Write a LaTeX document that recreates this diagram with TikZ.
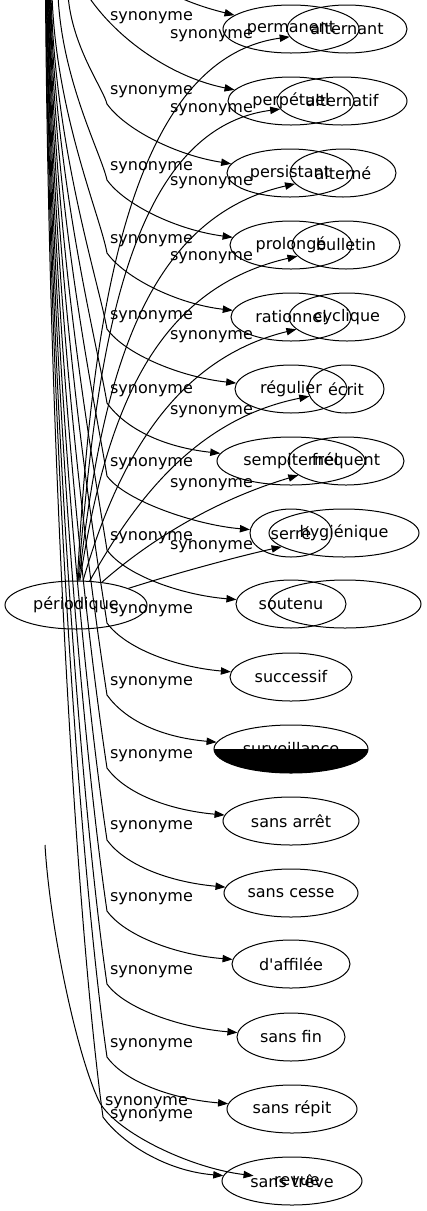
\documentclass[tikz,border=0pt]{standalone}
\usepackage{fontspec}
\setmainfont{DejaVu Sans}[Ligatures=TeXOff]
\usetikzlibrary{shapes.geometric,arrows.meta}
\begin{document}
\begin{tikzpicture}[x=0.75pt,y=-0.75pt,
  every node/.style={font=\fontsize{12}{14}\selectfont},
  nd/.style={ellipse,draw=black,line width=0.75pt,inner sep=0pt,minimum height=36pt,minimum width=#1*1.5pt},
  lbl/.style={inner sep=0pt},
  syn/.style={draw=black,line width=0.75pt,-{Triangle[length=7.5pt,width=5.5pt]}}]
\fill[white] (0,0) rectangle (426,1211);
\useasboundingbox (0,0) rectangle (426,1211);
\clip (0,0) rectangle (426,1211);

% main node
\node[nd=71] (peri) at (76,605) {périodique};

% first column
\node[nd=68] (permanent) at (291,29) {permanent};
\node[nd=63] (perpetuel) at (291,101) {perpétuel};
\node[nd=63] (persistant) at (290,173) {persistant};
\node[nd=61] (prolonge) at (291,245) {prolongé};
\node[nd=60] (rationnel) at (291,317) {rationnel};
\node[nd=56] (regulier) at (291,389) {régulier};
\node[nd=74] (sempiternel) at (291,461) {sempiternel};
\node[nd=41] (serre) at (291,533) {serré};
\node[nd=55] (soutenu) at (291,604) {soutenu};
\node[nd=61] (successif) at (291,677) {successif};
\node[nd=77] (surveillance) at (291,749) {surveillance};
\begin{scope}
\clip (200,749) rectangle (380,780);
\fill[black] (surveillance.center) ellipse [x radius=57.75pt, y radius=18pt];
\end{scope}
\node[nd=68] (sansarret) at (291,821) {sans arrêt};
\node[nd=67] (sanscesse) at (291,893) {sans cesse};
\node[nd=59] (daffilee) at (291,964) {d'affilée};
\node[nd=54] (sansfin) at (291,1037) {sans fin};
\node[nd=65] (sansrepit) at (292,1109) {sans répit};
\node[nd=70] (sanstreve) at (292,1181) {sans trêve};
\node[nd=44,draw=none] (revue) at (297,1181) {revue};

% second column
\node[nd=60] (alternant) at (347,29) {alternant};
\node[nd=65] (alternatif) at (342,101) {alternatif};
\node[nd=53] (alterne) at (343,173) {alterné};
\node[nd=54] (bulletin) at (346,245) {bulletin};
\node[nd=58] (cyclique) at (347,317) {cyclique};
\node[nd=38] (ecrit) at (346,389) {écrit};
\node[nd=58] (frequent) at (346,461) {fréquent};
\node[nd=75] (hygienique) at (344,533) {hygiénique};
\node[nd=76] (vide) at (345,604) {};

% free ends above the picture
\coordinate (s0) at (120,-40);
\coordinate (s1) at (70,-40);
\coordinate (s2) at (68,-5);
\coordinate (s3) at (58,-5);
\coordinate (s4) at (52,-5);
\coordinate (s5) at (51,-5);
\coordinate (s6) at (50.5,-5);
\coordinate (s7) at (50,-5);
\coordinate (s8) at (49.5,-5);
\coordinate (s9) at (49,-5);
\coordinate (s10) at (48.5,-5);
\coordinate (s11) at (48,-5);
\coordinate (s12) at (47.5,-5);
\coordinate (s13) at (47,-5);
\coordinate (s14) at (46.5,-5);
\coordinate (s15) at (46,-5);
\coordinate (s16) at (45.5,-5);
\coordinate (s17) at (45,845);

% first-column connectors
\draw[syn] (s0) .. controls (155,-12) and (185,3) .. (permanent);
\draw[syn] (s1) .. controls (90,20) and (160,75) .. (perpetuel);
\draw[syn] (s2) .. controls (72,47) and (103,88) .. (107,104) .. controls (125,129) and (175,155) .. (persistant);
\draw[syn] (s3) .. controls (62,81) and (101,153) .. (107,180) .. controls (125,205) and (177,230) .. (prolonge);
\draw[syn] (s4) .. controls (56,114) and (100,215) .. (107,253) .. controls (125,278) and (177,304) .. (rationnel);
\draw[syn] (s5) .. controls (55,148) and (98,280) .. (107,329) .. controls (125,354) and (180,377) .. (regulier);
\draw[syn] (s6) .. controls (54.5,181) and (97,343) .. (107,403) .. controls (125,428) and (162,447) .. (sempiternel);
\draw[syn] (s7) .. controls (54,214) and (95.5,405) .. (107,476) .. controls (125,501) and (196,525) .. (serre);
\draw[syn] (s8) .. controls (53.5,248) and (94,468) .. (107,550) .. controls (125,575) and (181,595) .. (soutenu);
\draw[syn] (s9) .. controls (53,280) and (92.5,530) .. (107,623) .. controls (125,648) and (175,667) .. (successif);
\draw[syn] (s10) .. controls (52.5,313) and (91,591) .. (107,695) .. controls (125,720) and (160,737) .. (surveillance);
\draw[syn] (s11) .. controls (52,346) and (89.6,653) .. (107,768) .. controls (125,793) and (168,810) .. (sansarret);
\draw[syn] (s12) .. controls (51.5,378) and (88,714) .. (107,840) .. controls (125,865) and (169,882) .. (sanscesse);
\draw[syn] (s13) .. controls (51,410) and (86.8,774) .. (107,911) .. controls (125,936) and (177,955) .. (daffilee);
\draw[syn] (s14) .. controls (50.5,443) and (85.3,836) .. (107,984) .. controls (125,1009) and (182,1028) .. (sansfin);
\draw[syn] (s15) .. controls (50,476) and (83.9,898) .. (107,1057) .. controls (125,1082) and (172,1099) .. (sansrepit);
\draw[syn] (s16) .. controls (49.5,503) and (79.7,949) .. (103,1117) .. controls (121,1142) and (165,1171) .. (sanstreve);
\draw[syn] (s17) .. controls (50,930) and (78,1060) .. (100,1103) .. controls (118,1133) and (190,1168) .. (revue);

% second-column connectors
\draw[syn] (peri) .. controls (90,350) and (120,60) .. (alternant);
\draw[syn] (peri) .. controls (95,380) and (120,130) .. (alternatif);
\draw[syn] (peri) .. controls (100,400) and (135,220) .. (alterne);
\draw[syn] (peri) .. controls (105,420) and (150,290) .. (bulletin);
\draw[syn] (peri) .. controls (115,470) and (170,360) .. (cyclique);
\draw[syn] (peri) .. controls (130,510) and (190,420) .. (ecrit);
\draw[syn] (peri) .. controls (150,540) and (215,500) .. (frequent);
\draw[syn] (peri) .. controls (180,572) and (240,556) .. (hygienique);

% labels, first column
\node[lbl] (a1) at (151.5,18) {synonyme};
\node[lbl] (a2) at (151.5,92) {synonyme};
\node[lbl] (a3) at (151.5,168) {synonyme};
\node[lbl] (a4) at (151.5,241) {synonyme};
\node[lbl] (a5) at (151.5,317) {synonyme};
\node[lbl] (a6) at (151.5,391) {synonyme};
\node[lbl] (a7) at (151.5,464) {synonyme};
\node[lbl] (a8) at (151.5,538) {synonyme};
\node[lbl] (a9) at (151.5,611) {synonyme};
\node[lbl] (a10) at (151.5,683) {synonyme};
\node[lbl] (a11) at (151.5,756) {synonyme};
\node[lbl] (a12) at (151.5,827) {synonyme};
\node[lbl] (a13) at (151.5,899) {synonyme};
\node[lbl] (a14) at (151.5,972) {synonyme};
\node[lbl] (a15) at (151.5,1045) {synonyme};
\node[lbl] (a16) at (151.5,1116) {synonyme};
\node[lbl] (a17) at (146.5,1103) {synonyme};

% labels, second column
\node[lbl] (b1) at (211.5,36) {synonyme};
\node[lbl] (b2) at (211.5,110) {synonyme};
\node[lbl] (b3) at (211.5,183) {synonyme};
\node[lbl] (b4) at (211.5,258) {synonyme};
\node[lbl] (b5) at (211.5,337) {synonyme};
\node[lbl] (b6) at (211.5,412) {synonyme};
\node[lbl] (b7) at (211.5,485) {synonyme};
\node[lbl] (b8) at (211.5,547) {synonyme};
\end{tikzpicture}
\end{document}
